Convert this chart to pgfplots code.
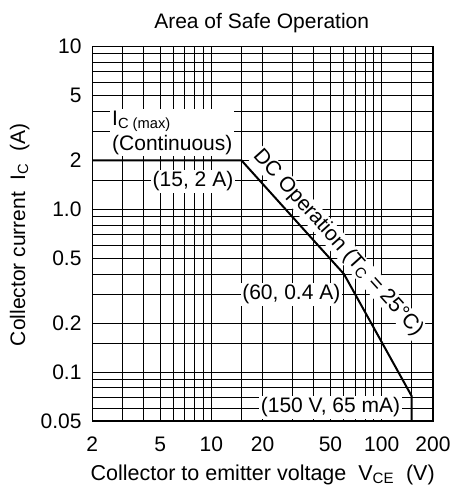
\documentclass[border=0pt]{standalone}
\usepackage{fontspec}
\setmainfont{Liberation Sans}
\usepackage{pgfplots}
\pgfplotsset{compat=1.18}
\newcommand{\fs}{\fontsize{21bp}{25bp}\selectfont}
\begin{document}
\begin{tikzpicture}[x=1bp,y=1bp]
\useasboundingbox (0,0) rectangle (452,486);
\begin{axis}[
  at={(92.3bp,65bp)}, anchor=south west,
  scale only axis, width=340.7bp, height=374.5bp,
  xmode=log, ymode=log,
  xmin=2, xmax=200, ymin=0.05, ymax=10,
  xtick={2,5,10,20,50,100,200},
  xticklabels={2,5,10,20,50,100,200},
  minor xtick={3,4,6,7,8,9,15,30,40,60,70,80,90,150},
  ytick={0.05,0.1,0.2,0.5,1,2,5,10},
  yticklabels={0.05,0.1,0.2,0.5,1.0,2,5,10},
  minor ytick={0.06,0.07,0.08,0.09,0.15,0.3,0.4,0.6,0.7,0.8,0.9,1.5,3,4,6,7,8,9},
  grid=both,
  major grid style={black, line width=1bp},
  minor grid style={black, line width=1bp},
  major tick length=0pt, minor tick length=0pt,
  axis line style={black, line width=1.3bp},
  tick label style={font=\fs},
  /pgf/number format/assume math mode=true,
  xticklabel style={anchor=north, inner sep=0pt, yshift=-15.7bp},
  yticklabel style={anchor=east, inner sep=0pt, xshift=-10.6bp},
]
\addplot[black, line width=2bp, line join=miter] coordinates {(2,2) (15,2) (60,0.4) (150,0.071) (150,0.05)};
\end{axis}
% title and axis labels
\node[anchor=base, font=\fs] at (261.7,457.7) {Area of Safe Operation};
\node[anchor=base, font=\fontsize{21.5bp}{25bp}\selectfont] at (262.7,5.5) {Collector to emitter voltage\ \ V\textsubscript{CE}\ \ (V)};
\node[anchor=base, rotate=90, font=\fs] at (25,251.1) {Collector current\ \ I\textsubscript{C}\ \ (A)};
% annotations
\node[anchor=north west, align=left, fill=white, inner sep=2bp, font=\fs] at (110,377.5) {I\textsubscript{C (max)}\\(Continuous)};
\node[anchor=base, fill=white, inner sep=1.5bp, font=\fs] at (193,299.3) {(15, 2 A)};
\node[anchor=base, fill=white, inner sep=1.5bp, font=\fs] at (291.3,186) {(60, 0.4 A)};
\node[anchor=base, fill=white, inner sep=1.5bp, font=\fs] at (330.5,73.3) {(150 V, 65 mA)};
\node[anchor=center, rotate=-48, fill=white, inner sep=1bp, font=\fs] at (338,243) {DC Operation (T\textsubscript{C} = 25\textdegree C)};
\end{tikzpicture}
\end{document}
